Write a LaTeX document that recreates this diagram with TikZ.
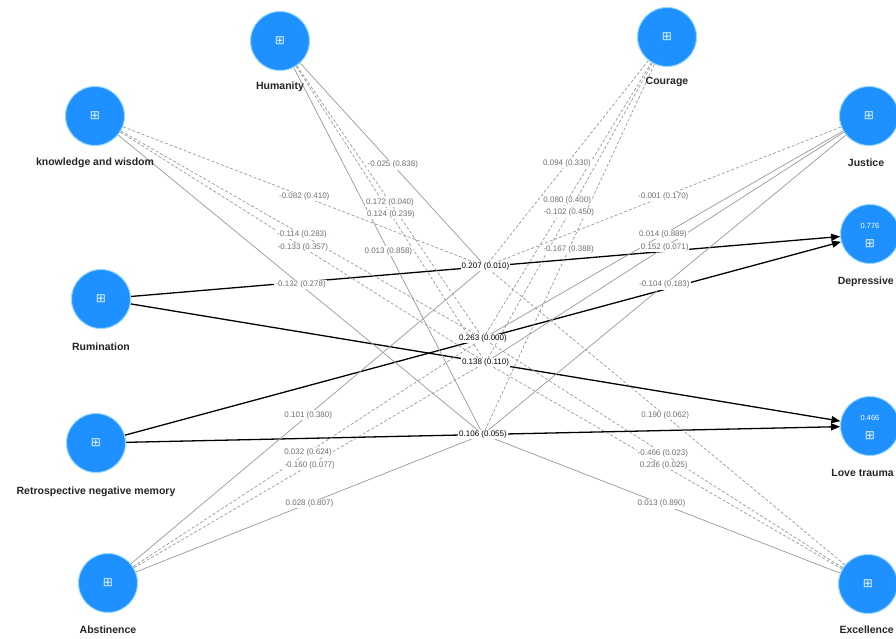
\documentclass[tikz,border=0pt]{standalone}
\usepackage{fontspec}
\setmainfont{Liberation Sans}
\newfontfamily\djv{DejaVu Sans}
\usetikzlibrary{arrows.meta}
\pgfdeclarelayer{back}
\pgfdeclarelayer{bg}
\pgfsetlayers{back,bg,main}
\definecolor{nodeblue}{RGB}{30,144,255}
\definecolor{ringblue}{RGB}{150,215,255}
\definecolor{lblgray}{RGB}{105,115,105}
\definecolor{modgray}{RGB}{150,155,150}
\tikzset{
 lv/.style={circle, fill=nodeblue, draw=ringblue, line width=1pt, minimum size=59pt, inner sep=0pt},
 lvname/.style={font=\fontsize{10.5}{12}\selectfont\bfseries, text=black!85, inner sep=1pt},
 icon/.style={text=white!92!nodeblue, font=\djv\fontsize{12}{12}\selectfont, inner sep=0pt},
 rsq/.style={text=white, font=\fontsize{7.5}{8}\selectfont, inner sep=0pt},
 pathline/.style={draw=black, line width=1.3pt, -{Triangle[length=9pt,width=7pt]}},
 modsolid/.style={draw=modgray, line width=0.7pt},
 moddash/.style={draw=modgray, line width=0.7pt, dash pattern=on 3pt off 2pt},
 modlbl/.style={fill=white, text=lblgray, font=\fontsize{8}{9}\selectfont, inner sep=1pt},
 pathlbl/.style={fill=white, text=black, font=\fontsize{8}{9}\selectfont, inner sep=1pt},
}
\newcommand\modl[4]{%
 \begin{pgfonlayer}{bg}\draw[#1] (#2) -- (#3);\end{pgfonlayer}%
 \path (#2) -- (#3) node[midway,modlbl]{#4};}
\begin{document}
\begin{tikzpicture}[x=1pt,y=-1pt]
\useasboundingbox (0,0) rectangle (896,639);
\clip (0,0) rectangle (896,639);
\begin{pgfonlayer}{back}
\fill[white] (0,0) rectangle (896,639);
\end{pgfonlayer}

% latent variables
\node[lv] (hum) at (280,41) {};
\node[icon] (humi) at (hum.center) {⊞};
\node[lvname] (humn) at (280,87) {Humanity};

\node[lv] (cou) at (667,37) {};
\node[icon] (coui) at (cou.center) {⊞};
\node[lvname] (coun) at (667,82) {Courage};

\node[lv] (kw) at (95,116) {};
\node[icon] (kwi) at (kw.center) {⊞};
\node[lvname] (kwn) at (95,163) {knowledge and wisdom};

\node[lv] (jus) at (869,116) {};
\node[icon] (jusi) at (jus.center) {⊞};
\node[lvname] (jusn) at (866,163) {Justice};

\node[lv] (dep) at (870,234) {};
\node[rsq] (depr) at (870,226) {0.776};
\node[icon] (depi) at (870,244) {⊞};
\node[lvname,anchor=east] (depn) at (895,282) {Depressive};

\node[lv] (rum) at (101,299) {};
\node[icon] (rumi) at (rum.center) {⊞};
\node[lvname] (rumn) at (101,347) {Rumination};

\node[lv] (ret) at (96,443) {};
\node[icon] (reti) at (ret.center) {⊞};
\node[lvname] (retn) at (96,492) {Retrospective negative memory};

\node[lv] (lov) at (870,426) {};
\node[rsq] (lovr) at (870,418) {0.466};
\node[icon] (lovi) at (870,436) {⊞};
\node[lvname,anchor=east] (lovn) at (895,473) {Love trauma};

\node[lv] (abs) at (108,583) {};
\node[icon] (absi) at (abs.center) {⊞};
\node[lvname] (absn) at (108,630) {Abstinence};

\node[lv] (exc) at (868,584) {};
\node[icon] (exci) at (exc.center) {⊞};
\node[lvname,anchor=east] (excn) at (895,630) {Excellence};

% path midpoints
\path (rum) -- (dep) coordinate[midway] (m1);
\path (ret) -- (dep) coordinate[midway] (m2);
\path (rum) -- (lov) coordinate[midway] (m3);
\path (ret) -- (lov) coordinate[midway] (m4);

% structural paths
\begin{pgfonlayer}{bg}
\draw[pathline] (rum) -- (dep);
\draw[pathline] (ret) -- (dep);
\draw[pathline] (rum) -- (lov);
\draw[pathline] (ret) -- (lov);
\end{pgfonlayer}

% moderating effects
\modl{modsolid}{hum}{m1}{-0.025 (0.838)}
\modl{moddash}{hum}{m2}{0.172 (0.040)}
\modl{moddash}{hum}{m3}{0.124 (0.239)}
\modl{modsolid}{hum}{m4}{0.013 (0.858)}

\modl{moddash}{cou}{m1}{0.094 (0.330)}
\modl{moddash}{cou}{m2}{0.080 (0.400)}
\modl{moddash}{cou}{m3}{-0.102 (0.450)}
\modl{moddash}{cou}{m4}{-0.167 (0.388)}

\modl{moddash}{kw}{m1}{-0.082 (0.410)}
\modl{moddash}{kw}{m2}{-0.114 (0.283)}
\modl{moddash}{kw}{m3}{-0.133 (0.357)}
\modl{modsolid}{kw}{m4}{-0.132 (0.278)}

\modl{moddash}{jus}{m1}{-0.001 (0.170)}
\modl{modsolid}{jus}{m2}{0.014 (0.889)}
\modl{modsolid}{jus}{m3}{0.152 (0.071)}
\modl{modsolid}{jus}{m4}{-0.104 (0.183)}

\modl{modsolid}{abs}{m1}{0.101 (0.380)}
\modl{moddash}{abs}{m2}{0.032 (0.624)}
\modl{moddash}{abs}{m3}{-0.160 (0.077)}
\modl{modsolid}{abs}{m4}{0.028 (0.807)}

\modl{moddash}{exc}{m1}{0.190 (0.062)}
\modl{moddash}{exc}{m2}{-0.466 (0.023)}
\modl{moddash}{exc}{m3}{0.236 (0.025)}
\modl{modsolid}{exc}{m4}{0.013 (0.890)}

% path coefficients
\path (rum) -- (dep) node[midway,pathlbl] (p1) {0.207 (0.010)};
\path (ret) -- (dep) node[midway,pathlbl] (p2) {0.263 (0.000)};
\path (rum) -- (lov) node[midway,pathlbl] (p3) {0.138 (0.110)};
\path (ret) -- (lov) node[midway,pathlbl] (p4) {0.106 (0.055)};
\end{tikzpicture}
\end{document}
